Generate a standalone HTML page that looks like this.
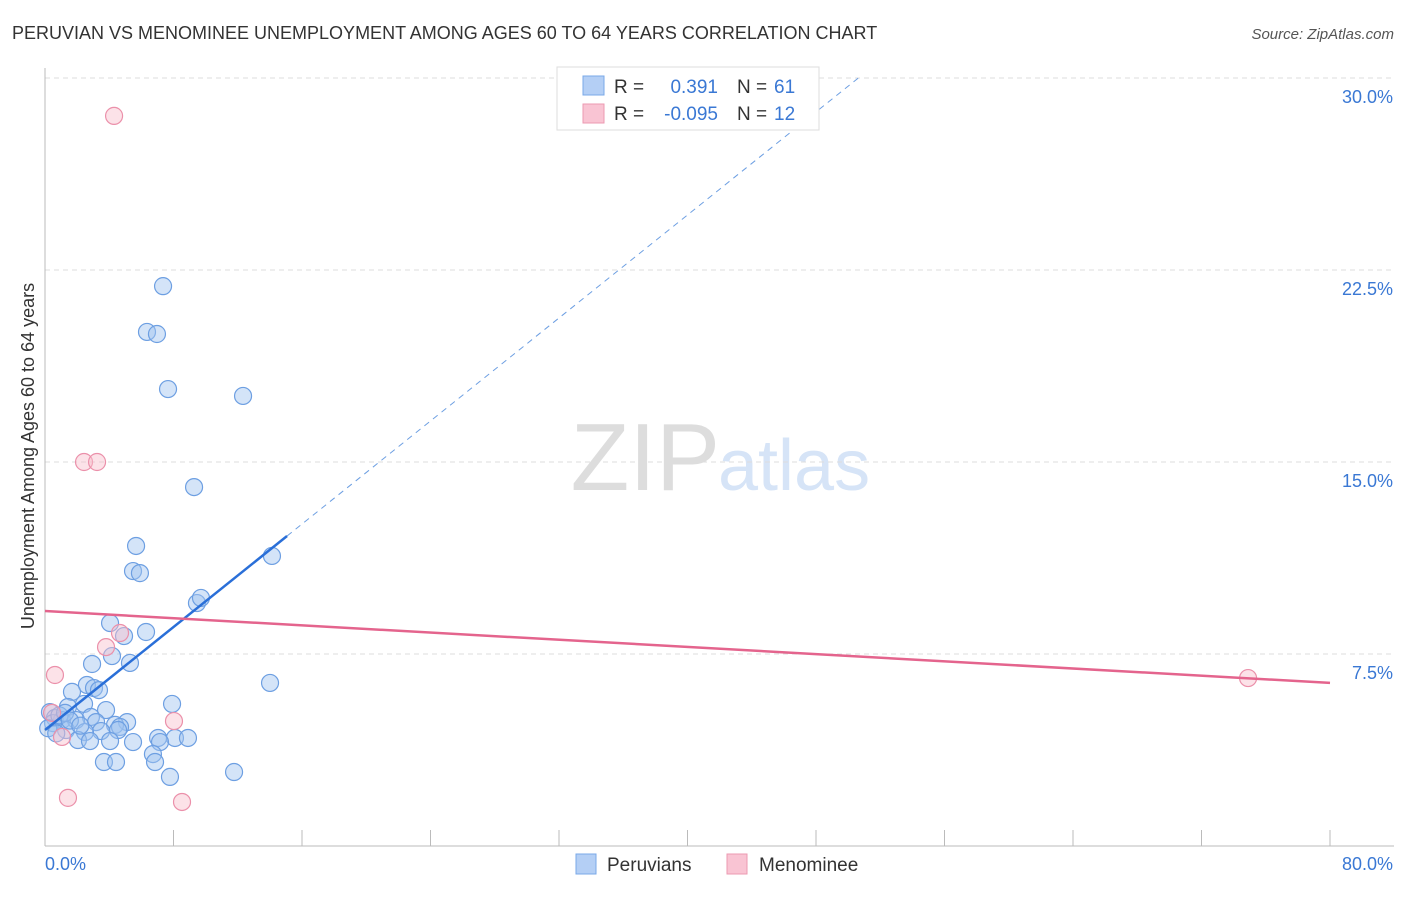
<!DOCTYPE html>
<html><head><meta charset="utf-8"><style>
body{margin:0;background:#fff;font-family:"Liberation Sans",sans-serif;}
svg text{font-family:"Liberation Sans",sans-serif;}
</style></head><body>
<svg id="c" width="1406" height="892">
<text x="12" y="39" font-size="18" fill="#333">PERUVIAN VS MENOMINEE UNEMPLOYMENT AMONG AGES 60 TO 64 YEARS CORRELATION CHART</text>
<text x="1394" y="39" font-size="15" fill="#555" text-anchor="end" font-style="italic">Source: ZipAtlas.com</text>
<text x="720" y="490" font-size="96" fill="#ddd" text-anchor="end" font-family="Liberation Serif">ZIP</text>
<text x="718" y="490" font-size="72" fill="#d6e4f7">atlas</text>
<text transform="translate(34,456) rotate(-90)" font-size="18" fill="#333" text-anchor="middle">Unemployment Among Ages 60 to 64 years</text>
<g id="grid"></g><g id="marks"></g><g id="lines"></g>
<g>
<rect x="557" y="67" width="262" height="63" fill="#fff" stroke="#ddd"/>
<rect x="583" y="76" width="21" height="19" fill="#b4cff5" stroke="#7aa8e8"/>
<rect x="583" y="104" width="21" height="19" fill="#f9c4d3" stroke="#ec9ab2"/>
<text x="614" y="93" font-size="19" fill="#333">R = </text><text x="718" y="93" font-size="19" fill="#3a78d4" text-anchor="end">0.391</text>
<text x="737" y="93" font-size="19" fill="#333">N = </text><text x="774" y="93" font-size="19" fill="#3a78d4">61</text>
<text x="614" y="120" font-size="19" fill="#333">R = </text><text x="718" y="120" font-size="19" fill="#3a78d4" text-anchor="end">-0.095</text>
<text x="737" y="120" font-size="19" fill="#333">N = </text><text x="774" y="120" font-size="19" fill="#3a78d4">12</text>
</g>
<g>
<rect x="576" y="854" width="20" height="20" fill="#b4cff5" stroke="#7aa8e8"/>
<text x="607" y="871" font-size="19" fill="#333">Peruvians</text>
<rect x="727" y="854" width="20" height="20" fill="#f9c4d3" stroke="#ec9ab2"/>
<text x="759" y="871" font-size="19" fill="#333">Menominee</text>
</g>
</svg>
<script>
const yTicks=[7.5,15,22.5,30];
const yTickLabels=["7.5%","15.0%","22.5%","30.0%"];
const xTickLabels=["0.0%","80.0%"];
const blueX=[7.35,6.35,6.97,7.66,12.33,9.28,5.67,14.13,5.48,5.91,9.46,9.71,4.05,4.92,6.29,4.17,5.29,2.93,14.01,2.61,3.05,3.36,1.68,7.91,2.43,1.43,3.80,0.31,2.86,0.62,1.06,1.93,3.18,5.11,4.36,4.67,4.55,3.49,2.49,1.31,7.04,8.09,8.90,7.16,5.48,2.05,6.72,6.85,3.67,4.42,7.78,11.77,0.5,0.9,0.2,1.25,1.55,2.2,2.8,4.05,0.7];
const blueY=[21.87,20.08,20.0,17.85,17.58,14.02,11.72,11.33,10.74,10.66,9.49,9.69,8.71,8.20,8.36,7.42,7.15,7.11,6.37,6.29,6.17,6.09,6.02,5.55,5.55,5.43,5.31,5.23,5.04,5.0,4.92,4.92,4.84,4.84,4.73,4.65,4.53,4.49,4.45,4.53,4.22,4.22,4.22,4.06,4.06,4.14,3.59,3.28,3.28,3.28,2.70,2.89,4.8,5.1,4.6,5.2,4.9,4.7,4.1,4.1,4.4];
const pinkX=[4.30,2.43,3.24,4.67,3.80,0.62,74.9,8.03,1.43,8.53,1.06,0.44];
const pinkY=[28.52,15.0,15.0,8.32,7.77,6.68,6.56,4.88,1.88,1.72,4.26,5.2];
const blueTrend=[4.53,0.503]; // intercept, slope
const pinkTrend=[9.18,-0.0351];
const NS="http://www.w3.org/2000/svg";
const X=v=>45+v/80*1285, Y=v=>846-v/7.5*192;
function mk(p,t,a){const e=document.createElementNS(NS,t);for(const k in a)e.setAttribute(k,a[k]);document.getElementById(p).appendChild(e);return e;}
yTicks.forEach((t,i)=>{
 const l=mk('grid','line',{x1:45,x2:1394,y1:Y(t),y2:Y(t),stroke:'#ddd','stroke-dasharray':'5,4'});
 
 
 const tx=mk('grid','text',{x:1393,y:Y(t)+25,'font-size':18,fill:'#3a78d4','text-anchor':'end'});tx.textContent=yTickLabels[i];
 
 
});
mk('grid','line',{x1:45,x2:45,y1:68,y2:846,stroke:'#bbb'});
mk('grid','line',{x1:45,x2:1394,y1:846,y2:846,stroke:'#bbb'});
for(let i=1;i<=10;i++){const t=mk('grid','line',{x1:X(i*8),x2:X(i*8),y1:830,y2:846,stroke:'#bbb'});
 
 }
[0,80].forEach((v,i)=>{const t=mk('grid','text',{x:i?1393:45,y:870,'font-size':18,fill:'#3a78d4','text-anchor':i?'end':'start'});t.textContent=xTickLabels[i];
 
 });
blueX.forEach((x,i)=>{const c=mk('marks','circle',{cx:X(x),cy:Y(blueY[i]),r:8.5,fill:'rgba(160,195,240,0.45)',stroke:'#6d9fe2','stroke-width':1.2});
 
 });
pinkX.forEach((x,i)=>{const c=mk('marks','circle',{cx:X(x),cy:Y(pinkY[i]),r:8.5,fill:'rgba(248,190,205,0.45)',stroke:'#eb90aa','stroke-width':1.2});
 
 });
const bx0=0,bx1=15.07,bxe=(30-blueTrend[0])/blueTrend[1];
const bt=x=>blueTrend[0]+blueTrend[1]*x, pt=x=>pinkTrend[0]+pinkTrend[1]*x;
const bs=mk('lines','line',{x1:X(bx0),y1:Y(bt(bx0)),x2:X(bx1),y2:Y(bt(bx1)),stroke:'#2a6fd8','stroke-width':2.5});


const bd=mk('lines','line',{x1:X(bx1),y1:Y(bt(bx1)),x2:X(bxe),y2:Y(bt(bxe)),stroke:'#6d9fe2','stroke-width':1,'stroke-dasharray':'6,5'});


const pl=mk('lines','line',{x1:X(0),y1:Y(pt(0)),x2:X(80),y2:Y(pt(80)),stroke:'#e4648d','stroke-width':2.5});


</script>
</body></html>
